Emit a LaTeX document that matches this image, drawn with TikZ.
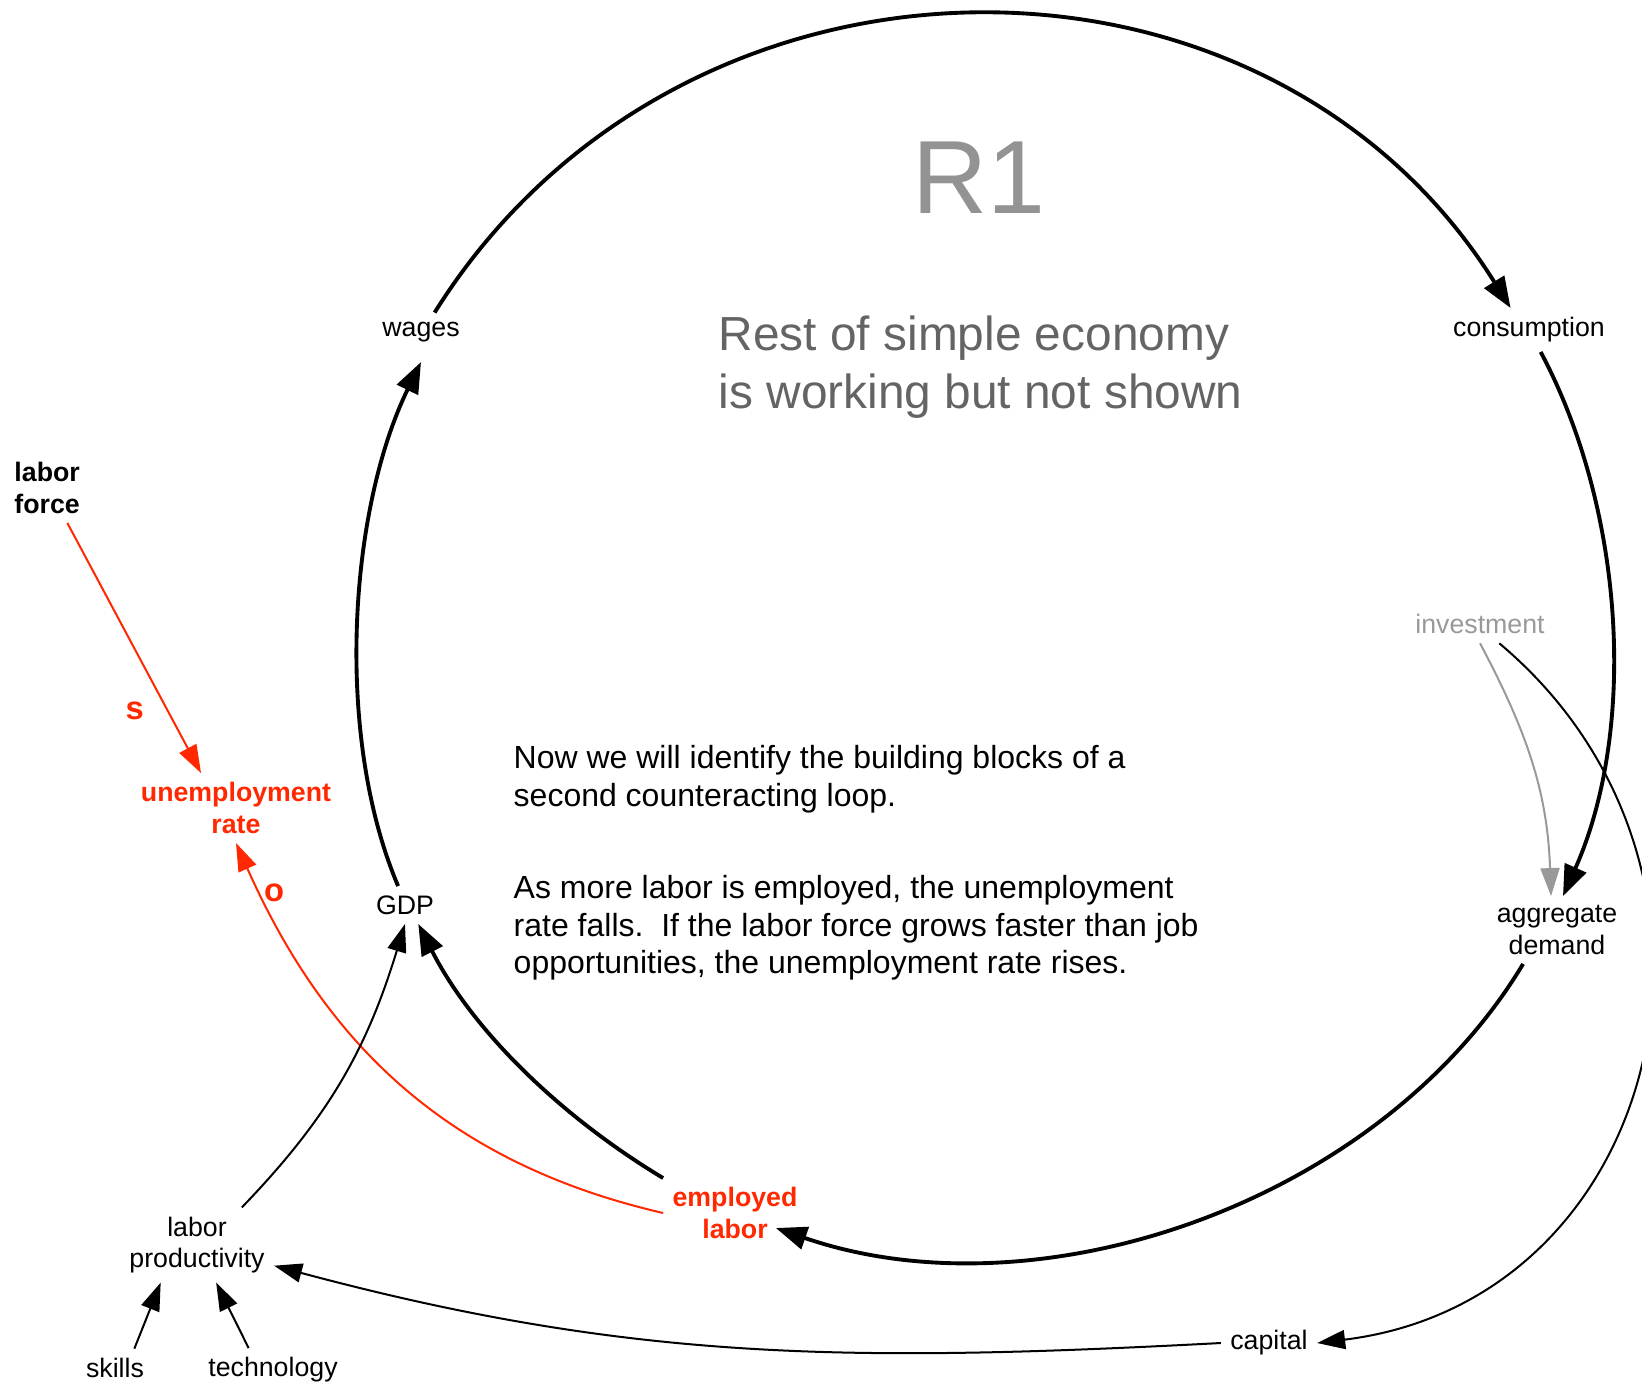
\documentclass[tikz,border=0pt]{standalone}
\usepackage{fontspec}
\setmainfont{Liberation Sans}
\usepackage{xcolor}
\usetikzlibrary{arrows.meta,positioning}
\definecolor{loopred}{RGB}{255,40,0}
\definecolor{loopgray}{RGB}{147,147,147}
\definecolor{notegray}{RGB}{100,100,100}
\definecolor{invgray}{RGB}{153,153,153}

\begin{document}
\begin{tikzpicture}[x=0.01cm, y=0.01cm,
  var/.style={align=center, inner sep=2.5pt, font=\fontsize{7.6}{8.9}\selectfont},
  keyvar/.style={var, font=\fontsize{7.6}{8.9}\selectfont\bfseries, text=loopred},
  lbl/.style={inner sep=2.5pt, font=\fontsize{9.3}{10}\selectfont\bfseries, text=loopred},
  note/.style={align=left, inner sep=0pt, anchor=west, font=\fontsize{9.1}{10.7}\selectfont},
  mainarr/.style={-{Triangle[length=0.31cm, width=0.23cm]}, line width=1.1pt},
  linkarr/.style={-{Triangle[length=0.28cm, width=0.19cm]}, line width=0.57pt},
  redarr/.style={linkarr, color=loopred}
]
\useasboundingbox (0,0) rectangle (1642,-1384);
% loop variables
\node[var] (wages) at (421,-332) {wages};
\node[var] (cons) at (1529,-330) {consumption};
\node[var] (ad) at (1557,-930) {aggregate\\demand};
\node[keyvar] (emp) at (735,-1213) {employed\\labor};
\node[var] (gdp) at (405,-905) {GDP};
% outside the loop
\node[var] (lprod) at (197,-1245) {labor\\productivity};
\node[var] (skills) at (115,-1368) {skills};
\node[var] (tech) at (273,-1370) {technology};
\node[var] (capital) at (1269,-1343) {capital};
\node[var, text=invgray] (invest) at (1480,-624) {investment};
\node[var, font=\fontsize{7.6}{8.9}\selectfont\bfseries, align=left, anchor=west] (lforce) at (5,-488) {labor\\force};
\node[keyvar] (unemp) at (236,-808) {unemployment\\rate};
\node[lbl] (olbl) at (274,-893) {o};
% texts
\node[font=\fontsize{29.6}{30}\selectfont, text=loopgray] (r1) at (979,-178) {R1};
\node[note, font=\fontsize{13.6}{16.4}\selectfont, text=notegray] (rest) at (718,-367) {Rest of simple economy\\is working but not shown};
\node[note] (nowtxt) at (513,-779) {Now we will identify the building blocks of a\\second counteracting loop.};
\node[note] (astxt) at (513,-928) {As more labor is employed, the unemployment\\rate falls.\ \ If the labor force grows faster than job\\opportunities, the unemployment rate rises.};
% reinforcing loop R1
\draw[mainarr] (wages.55) to[out=58, in=122, looseness=1.1] (cons.130);
\draw[mainarr] (cons.-62) to[out=-62, in=66, looseness=0.85] (ad.80);
\draw[mainarr] (ad.-135) to[out=-121, in=-19, looseness=0.9] ([shift={(-31,-15)}]emp.east);
\draw[mainarr] (emp.north west) to[out=149, in=-63, looseness=0.87] (gdp.-55);
\draw[mainarr] (gdp.110) to[out=113, in=-116, looseness=0.8] ([yshift=-3pt]wages.south);
% other links
\draw[redarr] (lforce.-60) -- node[lbl, pos=0.75, left=4pt] (slbl) {s} (unemp.135);
\draw[redarr] (emp.west) to[out=167, in=-66] (unemp.south);
\draw[linkarr] (lprod.40) to[out=46, in=-107] (gdp.south);
\draw[linkarr] (capital.west) to[out=183, in=-15] (lprod.-15);
\draw[linkarr] (skills.45) -- (lprod.-134);
\draw[linkarr] (tech.138) -- (lprod.-63);
\draw[linkarr, color=invgray] (invest.south) to[out=-62, in=92] (ad.100);
\draw[linkarr] (invest.-45) to[out=-40, in=7, looseness=1.24] (capital.east);
\end{tikzpicture}
\end{document}
